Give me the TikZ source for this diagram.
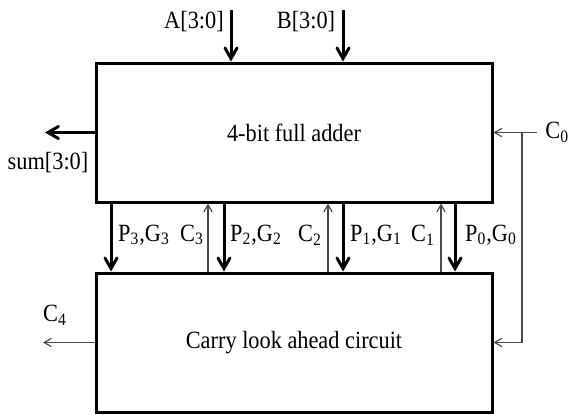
\documentclass[tikz,border=0pt]{standalone}
\usepackage{fontspec}
\setmainfont[FakeStretch=0.9]{Liberation Serif}
\usetikzlibrary{arrows}

\begin{document}
\begin{tikzpicture}[
		x=0.5pt,
		y=-0.5pt,
		>=angle 60,
		font=\fontsize{12.4}{14}\selectfont,
		block/.style={
			draw,
			line width=1.5pt,
			minimum width=198pt,
			minimum height=69.5pt,
			inner sep=0pt
		},
		bus/.style={->, line width=1.5pt},
		wire/.style={->, black!70, line width=0.6pt},
		lbl/.style={inner sep=0pt}
		]
		\useasboundingbox (0,0) rectangle (569,414);

		% the two blocks
		\node[block] (fa) at (294,132.5) {4-bit full adder};
		\node[block] (cla) at (294,342.5) {Carry look ahead circuit};

		% free ends
		\coordinate (ain) at (231,10);
		\coordinate (bin) at (343,10);
		\coordinate (sumout) at (45,132.5);
		\coordinate (c0in) at (537,132.5);
		\coordinate (c0tap) at (522,132.5);
		\coordinate (c4out) at (43,342.5);
		\coordinate (pg3) at (111,0);
		\coordinate (pg2) at (224,0);
		\coordinate (pg1) at (343,0);
		\coordinate (pg0) at (455,0);
		\coordinate (cc3) at (208,0);
		\coordinate (cc2) at (328,0);
		\coordinate (cc1) at (441,0);

		% buses
		\draw[bus] (ain) -- (ain |- fa.north);
		\draw[bus] (bin) -- (bin |- fa.north);
		\draw[bus] (fa.west) -- (sumout);
		\draw[bus] (fa.south -| pg3) -- (cla.north -| pg3);
		\draw[bus] (fa.south -| pg2) -- (cla.north -| pg2);
		\draw[bus] (fa.south -| pg1) -- (cla.north -| pg1);
		\draw[bus] (fa.south -| pg0) -- (cla.north -| pg0);

		% carries
		\draw[wire] (cla.north -| cc3) -- (fa.south -| cc3);
		\draw[wire] (cla.north -| cc2) -- (fa.south -| cc2);
		\draw[wire] (cla.north -| cc1) -- (fa.south -| cc1);
		\draw[wire] (c0in) -- (fa.east);
		\draw[wire] (c0tap) |- (cla.east);
		\draw[wire] (cla.west) -- (c4out);

		% labels
		\node[lbl] (alab) at (194,22) {A[3:0]};
		\node[lbl] (blab) at (306,22) {B[3:0]};
		\node[lbl] (sumlab) at (48,163) {sum[3:0]};
		\node[lbl, anchor=west] (c0lab) at (545,132.5) {C\textsubscript{0}};
		\node[lbl] (c4lab) at (55,315) {C\textsubscript{4}};
		\node[lbl] (pg3lab) at (144,235) {P\textsubscript{3},G\textsubscript{3}};
		\node[lbl] (c3lab) at (192,235) {C\textsubscript{3}};
		\node[lbl] (pg2lab) at (256,235) {P\textsubscript{2},G\textsubscript{2}};
		\node[lbl] (c2lab) at (310,235) {C\textsubscript{2}};
		\node[lbl] (pg1lab) at (376,235) {P\textsubscript{1},G\textsubscript{1}};
		\node[lbl] (c1lab) at (423,235) {C\textsubscript{1}};
		\node[lbl] (pg0lab) at (491,235) {P\textsubscript{0},G\textsubscript{0}};
	\end{tikzpicture}
\end{document}
